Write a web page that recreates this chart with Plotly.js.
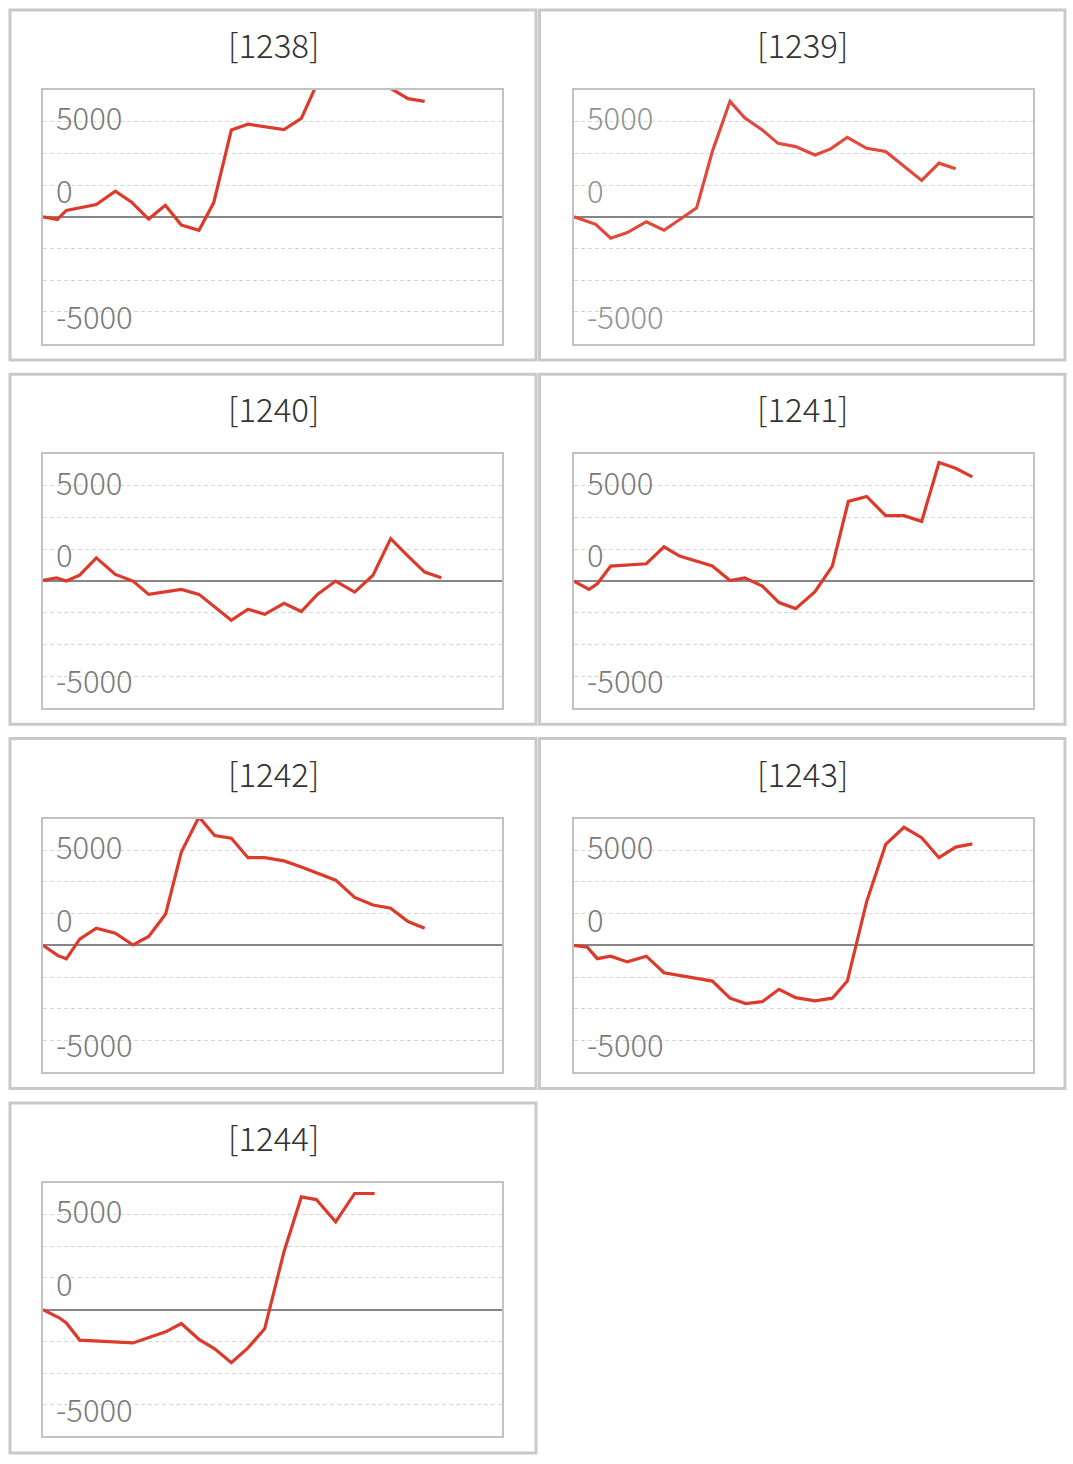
<!DOCTYPE html>
<html>
<head>
<meta charset="utf-8">
<script src="https://cdn.plot.ly/plotly-3.0.1.min.js"></script>
<style>
html,body{margin:0;padding:0;background:#fff;}
#chart{width:1073px;height:1464px;}
</style>
</head>
<body>
<div id="chart"></div>
<script>
// ---- data ----
const machines = ['1238', '1239', '1240', '1241', '1242', '1243', '1244'];

const x1238 = [0, 0.86, 1.4, 3.2, 4.34, 5.3, 6.34, 7.34, 8.3, 9.36, 10.24, 11.3, 12.3, 14.46, 15.5, 16.46, 17.56, 18.7, 19.8, 20.86, 21.9, 22.9];
const y1238 = [0, -140, 330, 640, 1340, 780, -120, 610, -440, -710, 730, 4560, 4870, 4590, 5170, 7030, 8130, 8650, 7950, 6750, 6210, 6070];

const x1239 = [0, 1.3, 2.2, 3.2, 4.34, 5.4, 6.5, 7.36, 8.3, 9.36, 10.24, 11.3, 12.24, 13.3, 14.46, 15.4, 16.4, 17.56, 18.7, 20.86, 21.9, 22.9];
const y1239 = [0, -400, -1130, -830, -260, -710, -50, 470, 3430, 6070, 5200, 4560, 3860, 3690, 3250, 3570, 4180, 3600, 3430, 1910, 2820, 2520];

const x1240 = [0, 0.8, 1.4, 2.2, 3.2, 4.34, 5.4, 6.34, 8.3, 9.36, 11.3, 12.3, 13.3, 14.46, 15.5, 16.46, 17.56, 18.7, 19.8, 20.86, 21.9, 22.9, 23.9];
const y1240 = [30, 170, 0, 310, 1220, 350, 0, -700, -440, -700, -2060, -1480, -1750, -1170, -1600, -700, 0, -580, 310, 2230, 1310, 470, 170];

const x1241 = [0, 0.9, 1.4, 2.2, 4.34, 5.4, 6.34, 8.3, 9.36, 10.24, 11.3, 12.3, 13.3, 14.46, 15.5, 16.46, 17.56, 18.7, 19.8, 20.86, 21.9, 22.9, 23.9];
const y1241 = [0, -440, -140, 790, 910, 1800, 1310, 790, 30, 170, -260, -1130, -1450, -560, 790, 4190, 4450, 3440, 3440, 3140, 6230, 5930, 5480];

const x1242 = [0, 0.9, 1.4, 2.2, 3.2, 4.34, 5.4, 6.34, 7.36, 8.3, 9.36, 10.3, 11.3, 12.3, 13.3, 14.46, 15.5, 16.46, 17.56, 18.7, 19.8, 20.86, 21.9, 22.9];
const y1242 = [0, -540, -710, 330, 900, 640, 20, 470, 1650, 4910, 6750, 5780, 5640, 4610, 4610, 4440, 4120, 3810, 3430, 2520, 2120, 1950, 1250, 900];

const x1243 = [0, 0.8, 1.4, 2.2, 3.2, 4.34, 5.4, 8.3, 9.36, 10.3, 11.3, 12.3, 13.3, 14.46, 15.5, 16.4, 17.56, 18.7, 19.8, 20.86, 21.9, 22.9, 23.9];
const y1243 = [0, -100, -700, -570, -870, -570, -1440, -1880, -2780, -3060, -2960, -2310, -2750, -2920, -2780, -1880, 2300, 5310, 6210, 5660, 4610, 5170, 5340];

const x1244 = [0, 1.0, 1.4, 2.2, 5.4, 7.36, 8.3, 9.36, 10.3, 11.3, 12.3, 13.3, 14.46, 15.5, 16.4, 17.56, 18.7, 19.9];
const y1244 = [0, -440, -700, -1600, -1750, -1170, -730, -1570, -2060, -2790, -2010, -1010, 3050, 5930, 5790, 4620, 6110, 6110];

// value-axis labels as they appear in the reference, and where they sit on the axis
const tickText = ['5000', '0', '-5000'];
const tickAt = [5250, 1430, -5180];

const xs = [x1238, x1239, x1240, x1241, x1242, x1243, x1244];
const ys = [y1238, y1239, y1240, y1241, y1242, y1243, y1244];

// ---- layout geometry ----
const W = 1073, H = 1464, PITCH = 364.3;
const boxL = [43, 574], boxR = [502, 1033];
const cellL = [10, 539.5], cellR = [536, 1065];
const FONT = '"Noto Sans CJK JP", "Noto Sans", sans-serif';
const YMAX = 20000 / 3;

const traces = [];
const layout = {
  width: W, height: H,
  margin: {l: 0, r: 0, t: 0, b: 0},
  paper_bgcolor: '#fff', plot_bgcolor: '#fff',
  showlegend: false,
  shapes: [], annotations: []
};

machines.forEach((m, i) => {
  const col = i % 2, row = Math.floor(i / 2);
  const k = i === 0 ? '' : String(i + 1);
  const top = 90 + PITCH * row, bot = 343.5 + PITCH * row;
  const faded = (m === '1239');
  traces.push({
    type: 'scatter', mode: 'lines',
    x: xs[i], y: ys[i],
    xaxis: 'x' + k, yaxis: 'y' + k,
    line: {color: faded ? '#e04a3e' : '#dc3a2b', width: 3.2},
    hoverinfo: 'skip'
  });
  layout['xaxis' + k] = {
    domain: [boxL[col] / W, boxR[col] / W],
    range: [0, 27.54],
    anchor: 'y' + k,
    showgrid: false, zeroline: false, showticklabels: false, ticks: '',
    showline: true, mirror: true, linecolor: '#c2c2c2', linewidth: 2,
    fixedrange: true
  };
  layout['yaxis' + k] = {
    domain: [1 - bot / H, 1 - top / H],
    range: [-YMAX, YMAX],
    tick0: 0, dtick: 5000 / 3,
    anchor: 'x' + k,
    showgrid: true, gridcolor: '#d6d6d6', gridwidth: 1, griddash: '4px,3px',
    zeroline: true, zerolinecolor: '#868686', zerolinewidth: 2,
    showticklabels: false, ticks: '',
    showline: true, mirror: true, linecolor: '#c2c2c2', linewidth: 2,
    fixedrange: true
  };
  // cell frame
  layout.shapes.push({
    type: 'rect', xref: 'paper', yref: 'paper',
    x0: cellL[col] / W, x1: cellR[col] / W,
    y0: 1 - (10 + PITCH * row) / H, y1: 1 - (360 + PITCH * row) / H,
    line: {color: '#c9c9c9', width: 3}, fillcolor: 'rgba(0,0,0,0)'
  });
  // cell title
  layout.annotations.push({
    xref: 'paper', yref: 'paper',
    x: (cellL[col] + cellR[col]) / 2 / W, y: 1 - (44 + PITCH * row) / H,
    xanchor: 'center', yanchor: 'middle',
    text: '[' + m + ']', showarrow: false,
    font: {family: FONT, size: 33, color: '#333333', weight: 300}
  });
  // value labels inside the plot box
  tickText.forEach((t, j) => {
    layout.annotations.push({
      xref: 'x' + k + ' domain', yref: 'y' + k,
      x: 11 / (boxR[col] - boxL[col]), y: tickAt[j],
      xanchor: 'left', yanchor: 'middle',
      text: t, showarrow: false,
      font: {family: FONT, size: 31, color: faded ? '#939393' : '#7a7a7a', weight: 300}
    });
  });
});

Plotly.newPlot('chart', traces, layout, {staticPlot: true, displayModeBar: false});
</script>
</body>
</html>
